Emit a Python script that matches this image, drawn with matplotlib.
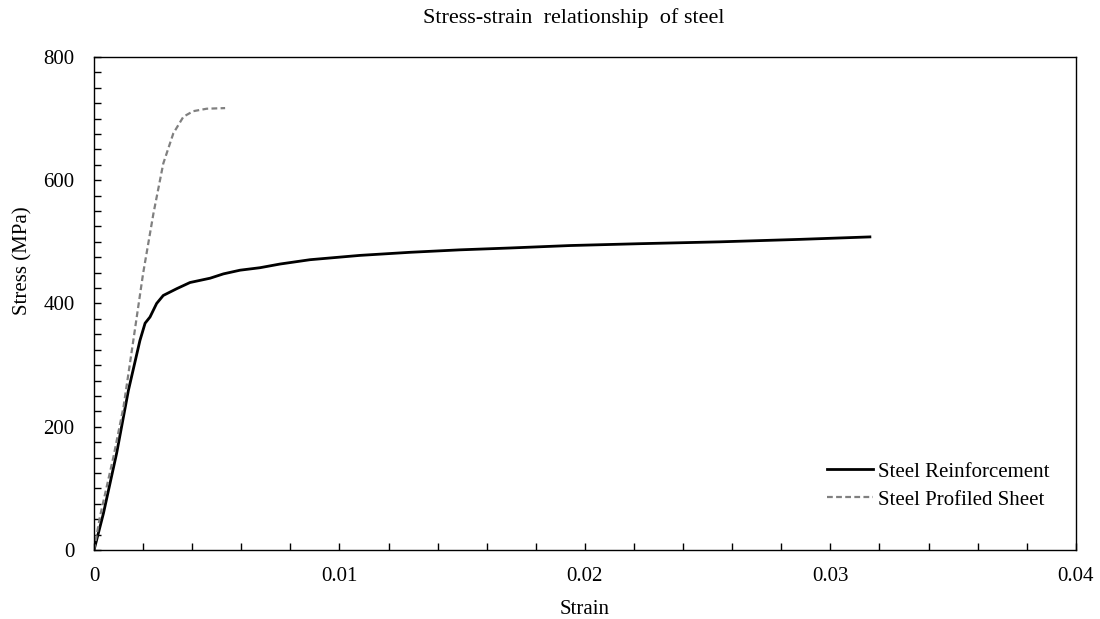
import matplotlib.pyplot as plt
from matplotlib.ticker import MultipleLocator

plt.rcParams['font.family'] = ['Liberation Serif', 'DejaVu Serif']

# steel reinforcement test curve
rebar_strain = [0, 0.00038, 0.00092, 0.0014, 0.00187, 0.00208, 0.00228, 0.00255, 0.00282,
                0.00337, 0.00391, 0.00473, 0.00527, 0.00595, 0.00676, 0.00758, 0.0088,
                0.01083, 0.01287, 0.0149, 0.01694, 0.0194, 0.02224, 0.0255, 0.02876, 0.03161]
rebar_stress = [0, 59, 157, 259, 340, 368, 378, 400, 413,
                424, 434, 441, 448, 454, 458, 464, 471,
                478, 483, 487, 490, 494, 497, 500, 504, 508]

# profiled sheet test curve
sheet_strain = [0, 0.00024, 0.00079, 0.0012, 0.0016, 0.002, 0.00242, 0.00282,
                0.00323, 0.00364, 0.00404, 0.00459, 0.00534]
sheet_stress = [0, 54, 151, 232, 340, 449, 546, 627,
                676, 703, 712, 716, 717]

x_ticks = [0, 0.01, 0.02, 0.03, 0.04]
x_tick_labels = ['0', '0.01', '0.02', '0.03', '0.04']

fig = plt.figure(figsize=(11, 6.19), dpi=100)
ax = fig.add_axes([0.0855, 0.1115, 0.8925, 0.7965])

ax.plot(rebar_strain, rebar_stress, color='black', lw=2, label='Steel Reinforcement')
ax.plot(sheet_strain, sheet_stress, color='#808080', lw=1.6, ls=(0, (2.6, 1.5)),
        label='Steel Profiled Sheet')

ax.set_xlim(0, 0.04)
ax.set_ylim(0, 800)
ax.set_xticks(x_ticks)
ax.set_xticklabels(x_tick_labels)
ax.xaxis.set_minor_locator(MultipleLocator(0.002))
ax.yaxis.set_major_locator(MultipleLocator(200))
ax.yaxis.set_minor_locator(MultipleLocator(25))
ax.tick_params(which='both', direction='in', length=5, width=1, labelsize=15,
               top=False, right=False)
ax.tick_params(axis='x', pad=12)
ax.tick_params(axis='y', pad=14)
for s in ax.spines.values():
    s.set_linewidth(1)

ax.set_xlabel('Strain', fontsize=15, labelpad=10.5)
ax.set_ylabel('Stress (MPa)', fontsize=15)
ax.yaxis.set_label_coords(-0.0631, 0.586)
fig.text(0.522, 0.971, 'Stress-strain  relationship  of steel', ha='center', va='center',
         fontsize=16)

ax.legend(loc='upper left', frameon=False, fontsize=15, handlelength=2.2,
          handletextpad=0.25, labelspacing=0.4, borderpad=0, borderaxespad=0,
          bbox_to_anchor=(0.7518, 0.2535), bbox_transform=fig.transFigure)

fig.savefig('out.png', dpi=100)
